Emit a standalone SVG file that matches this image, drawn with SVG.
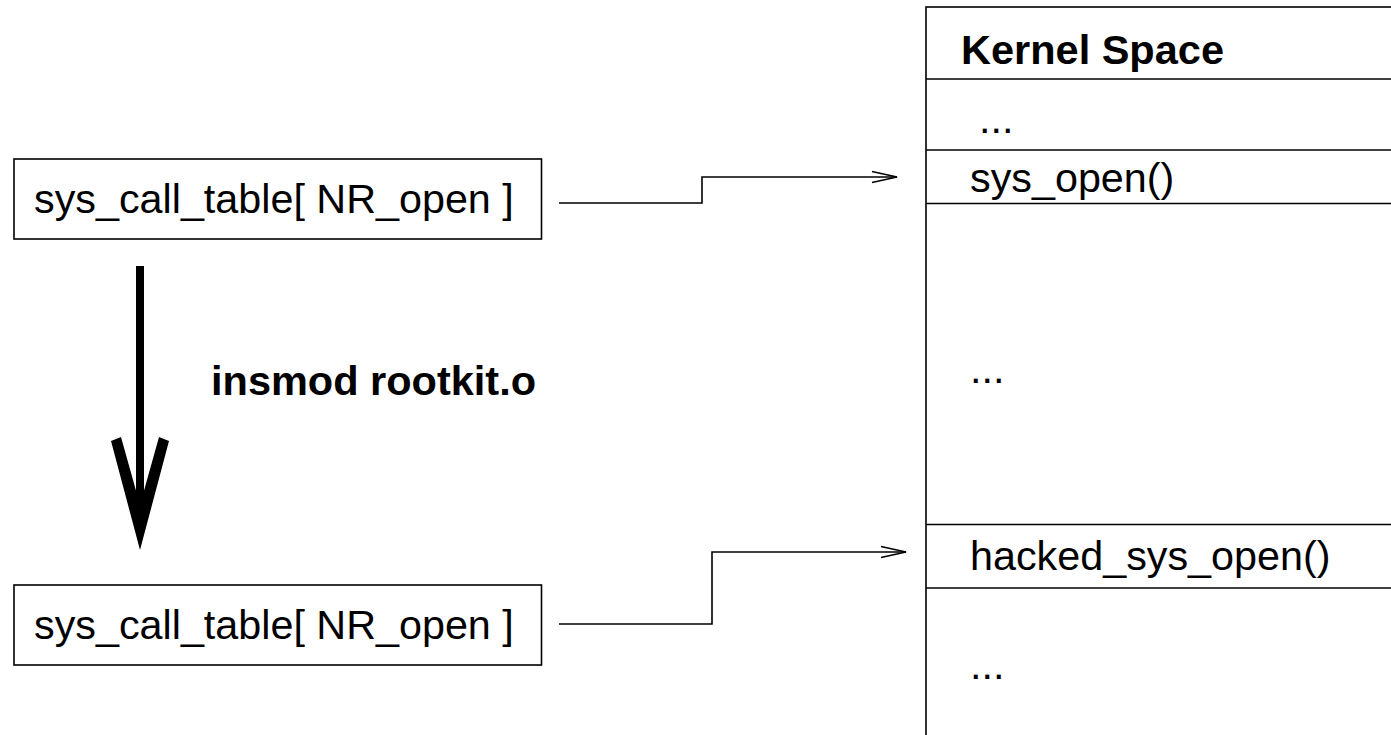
<svg xmlns="http://www.w3.org/2000/svg" width="1391" height="735" viewBox="0 0 1391 735">
<style>
.box{fill:#fff;stroke:#000;stroke-width:1.6}
.ln{fill:none;stroke:#000;stroke-width:1.6}
.t{font-family:"Liberation Sans",Arial,sans-serif;font-size:41.3px;fill:#000}
.b{font-weight:bold;font-size:41.5px}
</style>
<rect width="1391" height="735" fill="#fff"/>
<g id="top-entry">
<rect class="box" x="14" y="159" width="527.5" height="80"/>
<text class="t" x="34" y="213">sys_call_table[ NR_open ]</text>
</g>
<g id="bottom-entry">
<rect class="box" x="14" y="585" width="527.5" height="80"/>
<text class="t" x="34" y="639">sys_call_table[ NR_open ]</text>
</g>
<g id="insmod">
<rect x="136" y="266" width="8" height="240" fill="#000"/>
<polygon points="111,441 121,437 140,505 159,437 169,441 140,550" fill="#000"/>
<text class="t b" x="211" y="395">insmod rootkit.o</text>
</g>
<g id="kernel-space">
<rect class="box" x="926" y="7" width="520" height="800"/>
<line class="ln" x1="926" y1="79" x2="1391" y2="79"/>
<line class="ln" x1="926" y1="150" x2="1391" y2="150"/>
<line class="ln" x1="926" y1="203.5" x2="1391" y2="203.5"/>
<line class="ln" x1="926" y1="524.5" x2="1391" y2="524.5"/>
<line class="ln" x1="926" y1="588" x2="1391" y2="588"/>
<text class="t b" x="961" y="64">Kernel Space</text>
<text class="t" x="979" y="133">...</text>
<text class="t" x="970" y="192">sys_open()</text>
<text class="t" x="970" y="383">...</text>
<text class="t" x="970" y="570">hacked_sys_open()</text>
<text class="t" x="970" y="679">...</text>
</g>
<g id="connectors">
<polyline class="ln" points="559,203 702,203 702,177 897,177"/>
<polyline class="ln" points="872,171.5 897,177 872,182.5"/>
<polyline class="ln" points="559,624 712,624 712,552 906,552"/>
<polyline class="ln" points="881,546.5 906,552 881,557.5"/>
</g>
</svg>
